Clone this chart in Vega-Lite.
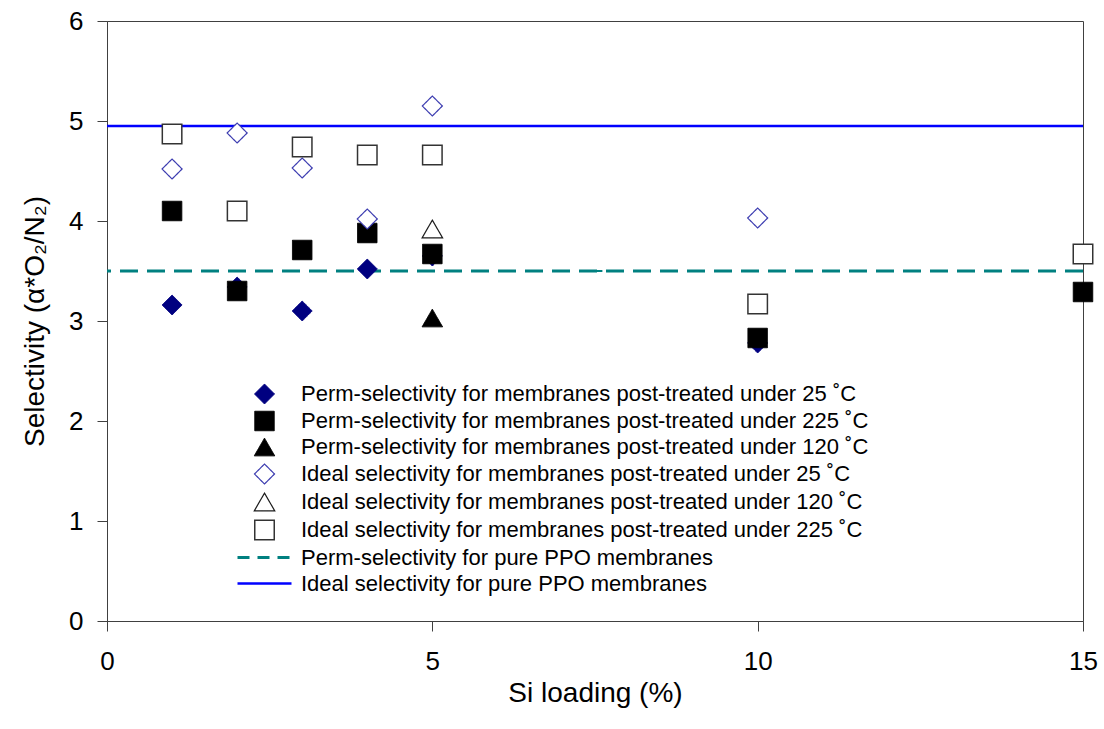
{
  "$schema": "https://vega.github.io/schema/vega-lite/v6.json",
  "autosize": {"type": "none"},
  "padding": {"left": 107, "top": 21, "right": 21, "bottom": 108},
  "width": 976,
  "height": 600,
  "background": "white",
  "datasets": {
    "points": [
      {"si": 1, "sel": 3.16, "series": "Perm-selectivity for membranes post-treated under 25 ˚C"},
      {"si": 2, "sel": 3.34, "series": "Perm-selectivity for membranes post-treated under 25 ˚C"},
      {"si": 3, "sel": 3.10, "series": "Perm-selectivity for membranes post-treated under 25 ˚C"},
      {"si": 4, "sel": 3.52, "series": "Perm-selectivity for membranes post-treated under 25 ˚C"},
      {"si": 5, "sel": 3.65, "series": "Perm-selectivity for membranes post-treated under 25 ˚C"},
      {"si": 10, "sel": 2.78, "series": "Perm-selectivity for membranes post-treated under 25 ˚C"},
      {"si": 1, "sel": 4.10, "series": "Perm-selectivity for membranes post-treated under 225 ˚C"},
      {"si": 2, "sel": 3.30, "series": "Perm-selectivity for membranes post-treated under 225 ˚C"},
      {"si": 3, "sel": 3.71, "series": "Perm-selectivity for membranes post-treated under 225 ˚C"},
      {"si": 4, "sel": 3.88, "series": "Perm-selectivity for membranes post-treated under 225 ˚C"},
      {"si": 5, "sel": 3.67, "series": "Perm-selectivity for membranes post-treated under 225 ˚C"},
      {"si": 10, "sel": 2.83, "series": "Perm-selectivity for membranes post-treated under 225 ˚C"},
      {"si": 15, "sel": 3.29, "series": "Perm-selectivity for membranes post-treated under 225 ˚C"},
      {"si": 5, "sel": 3.03, "series": "Perm-selectivity for membranes post-treated under 120 ˚C"},
      {"si": 1, "sel": 4.52, "series": "Ideal selectivity for membranes post-treated under 25 ˚C"},
      {"si": 2, "sel": 4.88, "series": "Ideal selectivity for membranes post-treated under 25 ˚C"},
      {"si": 3, "sel": 4.53, "series": "Ideal selectivity for membranes post-treated under 25 ˚C"},
      {"si": 4, "sel": 4.02, "series": "Ideal selectivity for membranes post-treated under 25 ˚C"},
      {"si": 5, "sel": 5.15, "series": "Ideal selectivity for membranes post-treated under 25 ˚C"},
      {"si": 10, "sel": 4.03, "series": "Ideal selectivity for membranes post-treated under 25 ˚C"},
      {"si": 5, "sel": 3.92, "series": "Ideal selectivity for membranes post-treated under 120 ˚C"},
      {"si": 1, "sel": 4.87, "series": "Ideal selectivity for membranes post-treated under 225 ˚C"},
      {"si": 2, "sel": 4.10, "series": "Ideal selectivity for membranes post-treated under 225 ˚C"},
      {"si": 3, "sel": 4.74, "series": "Ideal selectivity for membranes post-treated under 225 ˚C"},
      {"si": 4, "sel": 4.66, "series": "Ideal selectivity for membranes post-treated under 225 ˚C"},
      {"si": 5, "sel": 4.66, "series": "Ideal selectivity for membranes post-treated under 225 ˚C"},
      {"si": 10, "sel": 3.17, "series": "Ideal selectivity for membranes post-treated under 225 ˚C"},
      {"si": 15, "sel": 3.67, "series": "Ideal selectivity for membranes post-treated under 225 ˚C"}
    ],
    "refs": [
      {"sel": 3.5, "series": "Perm-selectivity for pure PPO membranes"},
      {"sel": 4.95, "series": "Ideal selectivity for pure PPO membranes"}
    ]
  },
  "layer": [
    {
      "data": {"name": "refs"},
      "transform": [{"filter": "datum.series === 'Perm-selectivity for pure PPO membranes'"}],
      "mark": {"type": "rule", "strokeWidth": 3, "strokeDash": [18, 9]},
      "encoding": {
        "y": {"field": "sel", "type": "quantitative"},
        "stroke": {"field": "series", "type": "nominal"}
      }
    },
    {
      "data": {"name": "refs"},
      "transform": [{"filter": "datum.series === 'Ideal selectivity for pure PPO membranes'"}],
      "mark": {"type": "rule", "strokeWidth": 2.5},
      "encoding": {
        "y": {"field": "sel", "type": "quantitative"},
        "stroke": {"field": "series", "type": "nominal"}
      }
    },
    {
      "data": {"name": "points"},
      "mark": {"type": "point", "opacity": 1},
      "encoding": {
        "x": {
          "field": "si", "type": "quantitative",
          "scale": {"domain": [0, 15], "nice": false, "zero": false},
          "axis": {"values": [0, 5, 10, 15], "format": "d", "title": "Si loading (%)"}
        },
        "y": {
          "field": "sel", "type": "quantitative",
          "scale": {"domain": [0, 6], "nice": false},
          "axis": {"values": [0, 1, 2, 3, 4, 5, 6], "format": "d", "title": "Selectivity (α*O₂/N₂)"}
        },
        "shape": {"field": "series", "type": "nominal"},
        "fill": {"field": "series", "type": "nominal"},
        "stroke": {"field": "series", "type": "nominal"},
        "size": {
          "field": "series", "type": "nominal",
          "scale": {
            "type": "ordinal",
            "domain": [
              "Perm-selectivity for membranes post-treated under 25 ˚C",
              "Perm-selectivity for membranes post-treated under 225 ˚C",
              "Perm-selectivity for membranes post-treated under 120 ˚C",
              "Ideal selectivity for membranes post-treated under 25 ˚C",
              "Ideal selectivity for membranes post-treated under 120 ˚C",
              "Ideal selectivity for membranes post-treated under 225 ˚C",
              "Perm-selectivity for pure PPO membranes",
              "Ideal selectivity for pure PPO membranes"
            ],
            "range": [400, 380, 420, 400, 420, 380, 400, 400]
          },
          "legend": {"title": null, "orient": "none", "legendX": 146, "legendY": 362}
        },
        "strokeWidth": {
          "field": "series", "type": "nominal",
          "scale": {
            "type": "ordinal",
            "domain": [
              "Perm-selectivity for membranes post-treated under 25 ˚C",
              "Perm-selectivity for membranes post-treated under 225 ˚C",
              "Perm-selectivity for membranes post-treated under 120 ˚C",
              "Ideal selectivity for membranes post-treated under 25 ˚C",
              "Ideal selectivity for membranes post-treated under 120 ˚C",
              "Ideal selectivity for membranes post-treated under 225 ˚C",
              "Perm-selectivity for pure PPO membranes",
              "Ideal selectivity for pure PPO membranes"
            ],
            "range": [1, 1, 1, 1.2, 1.2, 1.5, 3, 2.5]
          },
          "legend": {"title": null, "orient": "none", "legendX": 146, "legendY": 362}
        },
        "strokeDash": {
          "field": "series", "type": "nominal",
          "scale": {
            "type": "ordinal",
            "domain": [
              "Perm-selectivity for membranes post-treated under 25 ˚C",
              "Perm-selectivity for membranes post-treated under 225 ˚C",
              "Perm-selectivity for membranes post-treated under 120 ˚C",
              "Ideal selectivity for membranes post-treated under 25 ˚C",
              "Ideal selectivity for membranes post-treated under 120 ˚C",
              "Ideal selectivity for membranes post-treated under 225 ˚C",
              "Perm-selectivity for pure PPO membranes",
              "Ideal selectivity for pure PPO membranes"
            ],
            "range": [[1, 0], [1, 0], [1, 0], [1, 0], [1, 0], [1, 0], [12, 8], [1, 0]]
          },
          "legend": {"title": null, "orient": "none", "legendX": 146, "legendY": 362}
        }
      }
    }
  ],
  "encoding": {
    "stroke": {
      "field": "series", "type": "nominal",
      "scale": {
        "domain": [
          "Perm-selectivity for membranes post-treated under 25 ˚C",
          "Perm-selectivity for membranes post-treated under 225 ˚C",
          "Perm-selectivity for membranes post-treated under 120 ˚C",
          "Ideal selectivity for membranes post-treated under 25 ˚C",
          "Ideal selectivity for membranes post-treated under 120 ˚C",
          "Ideal selectivity for membranes post-treated under 225 ˚C",
          "Perm-selectivity for pure PPO membranes",
          "Ideal selectivity for pure PPO membranes"
        ],
        "range": ["#000080", "#000000", "#000000", "#3c3cb0", "#1a1a1a", "#333333", "#008080", "#0000ff"]
      },
      "legend": {"title": null, "orient": "none", "legendX": 146, "legendY": 362}
    },
    "fill": {
      "field": "series", "type": "nominal",
      "scale": {
        "domain": [
          "Perm-selectivity for membranes post-treated under 25 ˚C",
          "Perm-selectivity for membranes post-treated under 225 ˚C",
          "Perm-selectivity for membranes post-treated under 120 ˚C",
          "Ideal selectivity for membranes post-treated under 25 ˚C",
          "Ideal selectivity for membranes post-treated under 120 ˚C",
          "Ideal selectivity for membranes post-treated under 225 ˚C",
          "Perm-selectivity for pure PPO membranes",
          "Ideal selectivity for pure PPO membranes"
        ],
        "range": ["#000080", "#000000", "#000000", "#ffffff", "#ffffff", "#ffffff", "transparent", "transparent"]
      },
      "legend": {"title": null, "orient": "none", "legendX": 146, "legendY": 362}
    },
    "shape": {
      "field": "series", "type": "nominal",
      "scale": {
        "domain": [
          "Perm-selectivity for membranes post-treated under 25 ˚C",
          "Perm-selectivity for membranes post-treated under 225 ˚C",
          "Perm-selectivity for membranes post-treated under 120 ˚C",
          "Ideal selectivity for membranes post-treated under 25 ˚C",
          "Ideal selectivity for membranes post-treated under 120 ˚C",
          "Ideal selectivity for membranes post-treated under 225 ˚C",
          "Perm-selectivity for pure PPO membranes",
          "Ideal selectivity for pure PPO membranes"
        ],
        "range": ["diamond", "square", "triangle-up", "diamond", "triangle-up", "square", "M-2.7,0H2.7", "M-2.7,0H2.7"]
      },
      "legend": {"title": null, "orient": "none", "legendX": 146, "legendY": 362}
    }
  },
  "config": {
    "view": {"stroke": "#404040", "strokeWidth": 1},
    "font": "Liberation Sans",
    "legend": {
      "labelOffset": 25,
      "rowPadding": 3,
      "labelFontSize": 22,
      "labelLimit": 900,
      "labelFont": "Liberation Sans",
      "labelColor": "#000000"
    },
    "axis": {
      "grid": false,
      "domainColor": "#404040",
      "tickColor": "#404040",
      "tickSize": 10,
      "labelFont": "Liberation Sans",
      "labelFontSize": 26,
      "labelColor": "#000000",
      "titleFont": "Liberation Sans",
      "titleFontSize": 28,
      "titleFontWeight": "normal",
      "titleColor": "#000000"
    },
    "axisX": {"labelPadding": 17, "titlePadding": 5, "labelFlush": false},
    "axisY": {"labelPadding": 14, "titlePadding": 19}
  }
}
